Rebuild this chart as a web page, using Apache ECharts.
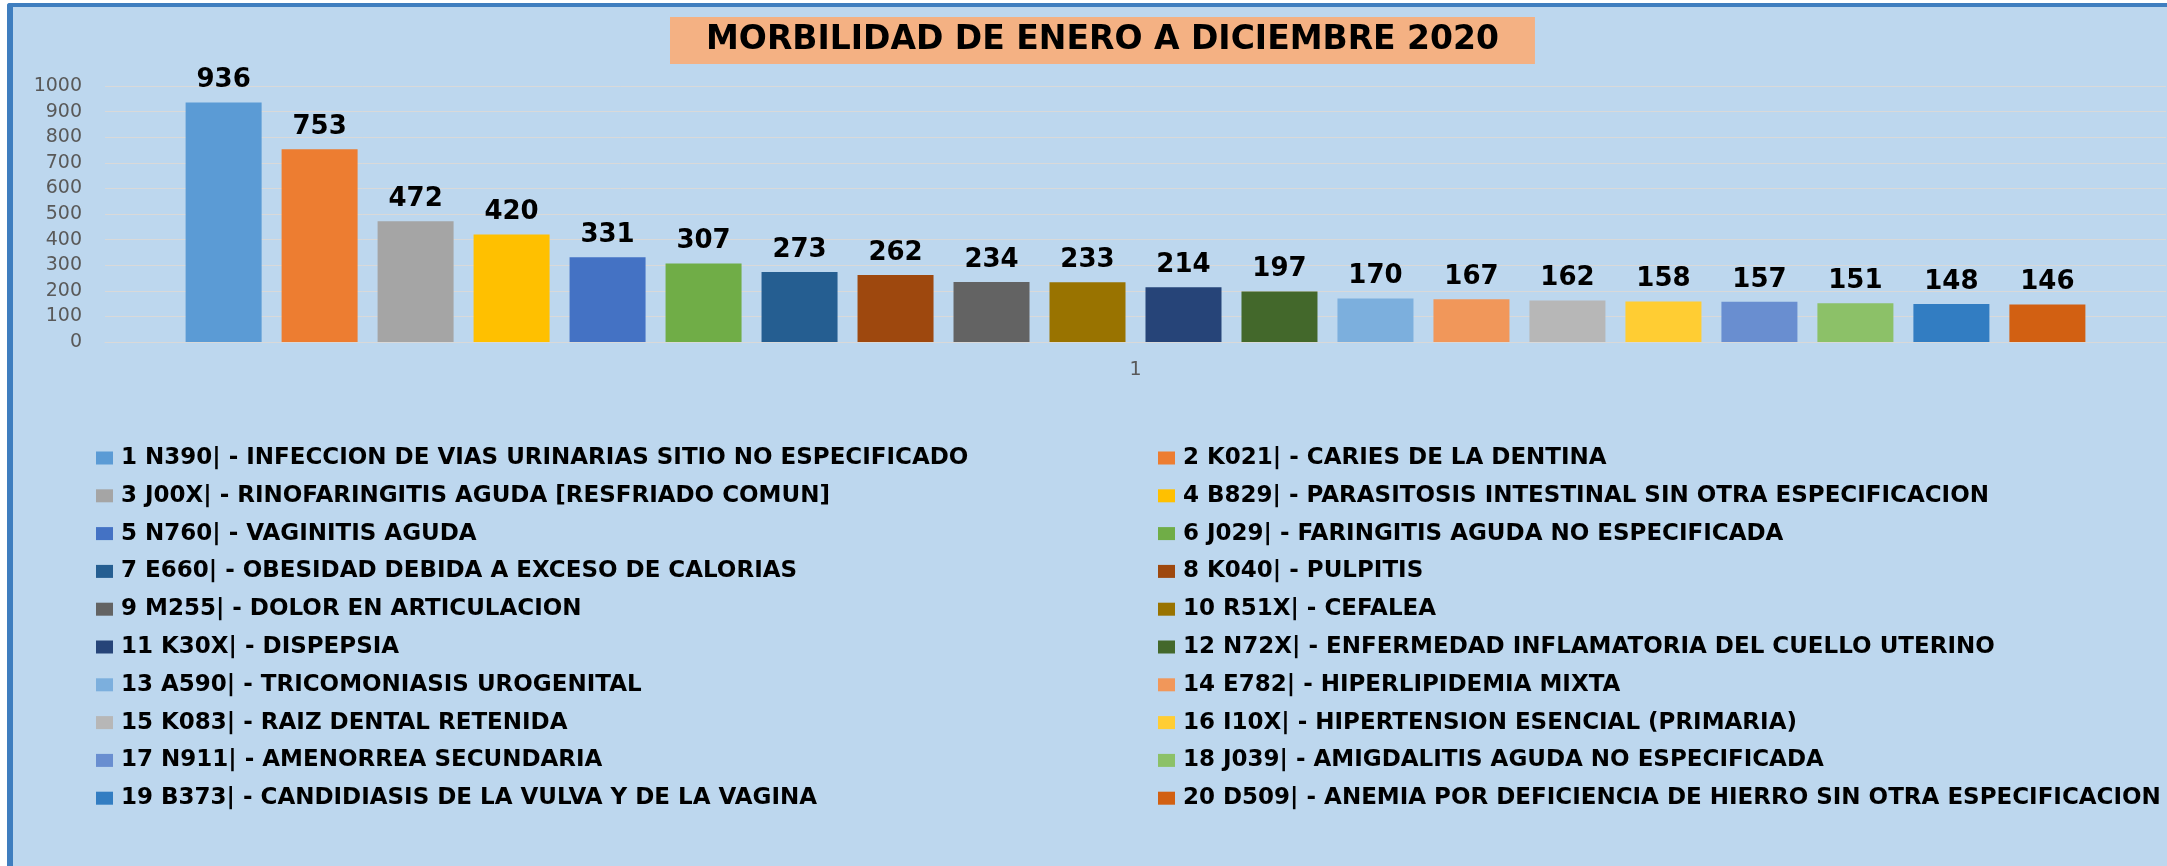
<!DOCTYPE html>
<html>
<head>
<meta charset="utf-8">
<title>Morbilidad 2020</title>
<script src="https://cdn.jsdelivr.net/npm/echarts@6/dist/echarts.min.js"></script>
<style>
  html, body { margin: 0; padding: 0; background: #ffffff; }
  /* marco azul del grafico (solo se ven borde superior e izquierdo) */
  #frame {
    position: absolute; left: 7px; top: 3px; width: 2170px; height: 870px;
    border-left: 6px solid #3F7EBF; border-top: 4px solid #3F7EBF;
    border-top-left-radius: 3px; background: #BDD7EE;
  }
  #main { position: absolute; left: 0; top: 0; width: 2167px; height: 866px; }
</style>
</head>
<body>
<div id="frame"></div>
<div id="main"></div>
<script>
// categoria unica del eje x
var categories = ["1"];

// diagnosticos (nombre de cada serie)
var diagnosticos = [
  "1 N390| - INFECCION DE VIAS URINARIAS SITIO NO ESPECIFICADO",
  "2 K021| - CARIES DE LA DENTINA",
  "3 J00X| - RINOFARINGITIS AGUDA [RESFRIADO COMUN]",
  "4 B829| - PARASITOSIS INTESTINAL SIN OTRA ESPECIFICACION",
  "5 N760| - VAGINITIS AGUDA",
  "6 J029| - FARINGITIS AGUDA NO ESPECIFICADA",
  "7 E660| - OBESIDAD DEBIDA A EXCESO DE CALORIAS",
  "8 K040| - PULPITIS",
  "9 M255| - DOLOR EN ARTICULACION",
  "10 R51X| - CEFALEA",
  "11 K30X| - DISPEPSIA",
  "12 N72X| - ENFERMEDAD INFLAMATORIA DEL CUELLO UTERINO",
  "13 A590| - TRICOMONIASIS UROGENITAL",
  "14 E782| - HIPERLIPIDEMIA MIXTA",
  "15 K083| - RAIZ DENTAL RETENIDA",
  "16 I10X| - HIPERTENSION ESENCIAL (PRIMARIA)",
  "17 N911| - AMENORREA SECUNDARIA",
  "18 J039| - AMIGDALITIS AGUDA NO ESPECIFICADA",
  "19 B373| - CANDIDIASIS DE LA VULVA Y DE LA VAGINA",
  "20 D509| - ANEMIA POR DEFICIENCIA DE HIERRO SIN OTRA ESPECIFICACION"
];

// casos por diagnostico
var casos = [936, 753, 472, 420, 331, 307, 273, 262, 234, 233, 214, 197, 170, 167, 162, 158, 157, 151, 148, 146];

// colores tipo Excel
var colores = [
  "#5B9BD5", "#ED7D31", "#A5A5A5", "#FFC000", "#4472C4", "#70AD47", "#255E91", "#9E480E", "#636363", "#997300",
  "#264478", "#43682B", "#7CAFDD", "#F1975A", "#B7B7B7", "#FFCD33", "#698ED0", "#8CC168", "#327DC2", "#D26012"
];

// etiquetas del eje y
var yTicks = [0, 100, 200, 300, 400, 500, 600, 700, 800, 900, 1000];

var fuente = "DejaVu Sans";

var series = diagnosticos.map(function (nombre, i) {
  return {
    name: nombre,
    type: "bar",
    data: [casos[i]],
    barWidth: 76,
    barGap: "26.3%",
    itemStyle: { color: colores[i] },
    label: {
      show: true,
      position: "top",
      distance: 9,
      fontFamily: fuente,
      fontSize: 26,
      fontWeight: "bold",
      color: "#000"
    }
  };
});

var legendText = {
  fontFamily: fuente,
  fontSize: 23,
  fontWeight: "bold",
  color: "#000",
  lineHeight: 24,
  padding: [0, 0, 0, 3]
};

function leyenda(left, resto) {
  return {
    orient: "vertical",
    left: left,
    top: 446,
    padding: 0,
    itemWidth: 17,
    itemHeight: 13,
    itemGap: 13.8,
    icon: "rect",
    selectedMode: false,
    textStyle: legendText,
    data: diagnosticos.filter(function (d, i) { return i % 2 === resto; })
  };
}

var chart = echarts.init(document.getElementById("main"));
chart.setOption({
  animation: false,
  title: {
    text: "MORBILIDAD DE ENERO A DICIEMBRE 2020",
    left: 670,
    top: 17,
    padding: [7, 36],
    backgroundColor: "#F4B183",
    textStyle: { fontFamily: fuente, fontSize: 33, fontWeight: "bold", color: "#000" }
  },
  legend: [leyenda(96, 0), leyenda(1158, 1)],
  grid: { left: 105, right: 1, top: 86, bottom: 524 },
  xAxis: {
    type: "category",
    data: categories,
    axisLine: { show: true, lineStyle: { color: "#D9D9D9", width: 1 } },
    axisTick: { show: false },
    axisLabel: { color: "#595959", fontFamily: fuente, fontSize: 19, margin: 19 }
  },
  yAxis: {
    type: "value",
    min: yTicks[0],
    max: yTicks[yTicks.length - 1],
    interval: 100,
    axisLine: { show: false },
    axisTick: { show: false },
    splitLine: { lineStyle: { color: "#D9D9D9", width: 1 } },
    axisLabel: {
      color: "#595959", fontFamily: fuente, fontSize: 19, margin: 23,
      formatter: function (v) { return String(v); }
    }
  },
  series: series
});
</script>
</body>
</html>
